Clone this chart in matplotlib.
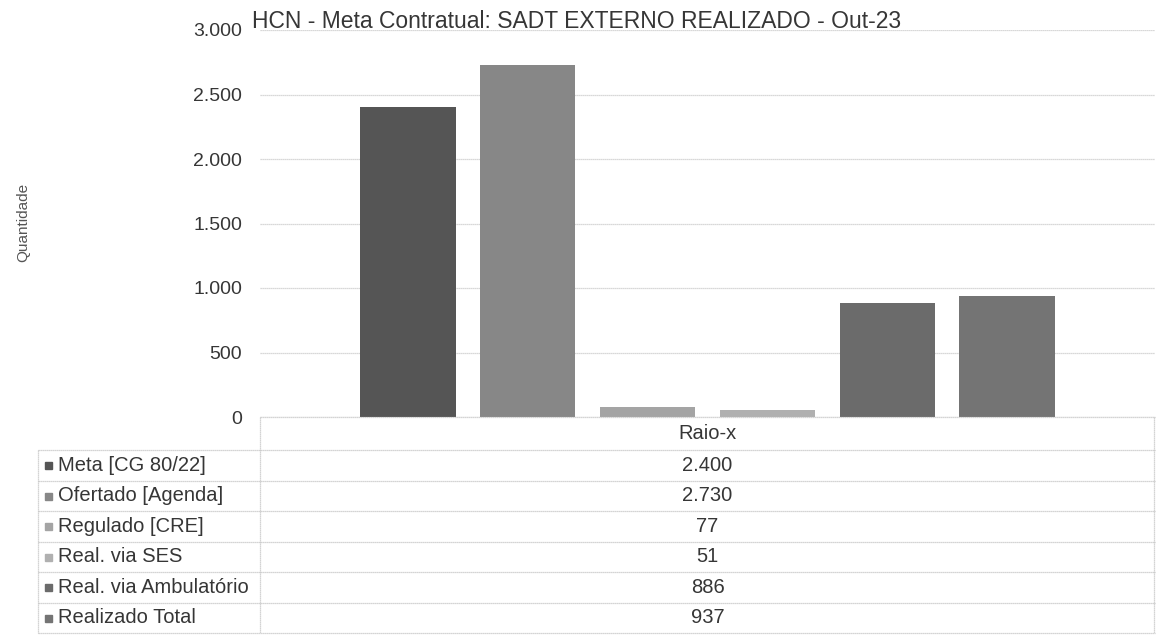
import matplotlib
matplotlib.use("Agg")
import matplotlib.pyplot as plt
from matplotlib.lines import Line2D
from matplotlib.patches import Rectangle

plt.rcParams['font.family'] = ['Liberation Sans', 'DejaVu Sans']

# ---- data ----
category = "Raio-x"
series = ["Meta [CG 80/22]", "Ofertado [Agenda]", "Regulado [CRE]",
          "Real. via SES", "Real. via Ambulatório", "Realizado Total"]
values = [2400, 2730, 77, 51, 886, 937]
value_labels = ["2.400", "2.730", "77", "51", "886", "937"]
colors = ["#555555", "#878787", "#a4a4a4", "#b0b0b0", "#6b6b6b", "#747474"]
yticks = [0, 500, 1000, 1500, 2000, 2500, 3000]
ytick_labels = ["0", "500", "1.000", "1.500", "2.000", "2.500", "3.000"]
title = "HCN - Meta Contratual: SADT EXTERNO REALIZADO - Out-23"
ylabel = "Quantidade"

W, H = 1157, 635
fig = plt.figure(figsize=(W / 100, H / 100), dpi=100)

def fx(px):
    return px / W

def fy(py):
    return 1 - py / H

txt = "#363636"
left, right, top, bottom = 260, 1155, 30, 417
ax = fig.add_axes([fx(left), fy(bottom), fx(right) - fx(left), fy(top) - fy(bottom)])
ax.set_xlim(-0.5, 0.5)
ax.set_ylim(0, 3000)

step = 0.134
width = 0.107
n = len(series)
for i, (v, c) in enumerate(zip(values, colors)):
    ax.bar((i - (n - 1) / 2) * step, v, width=width, color=c, zorder=3)

ax.set_yticks(yticks)
ax.set_yticklabels(ytick_labels, fontsize=14, color=txt)
ax.tick_params(axis='y', length=0, pad=13)
ax.set_xticks([])
for s in ax.spines.values():
    s.set_visible(False)
ax.grid(axis='y', color="#cccccc", linewidth=0.9, linestyle=(0, (1, 0.6)), zorder=0)

fig.text(fx(577), fy(22), title, fontsize=16.5, color=txt, ha='center', va='center')
fig.text(fx(23), fy(222), ylabel, fontsize=11, color="#555555", rotation=90,
         ha='center', va='center')

# ---- data table ----
lc = "#c6c6c6"
lw = 0.9
ls = (0, (1, 0.6))
x0, x1, x2 = 38, left, right
row_h = 30.5
hdr_top = bottom
rows_top = 450
table_bottom = rows_top + row_h * n

def hline(y, xa, xb):
    fig.add_artist(Line2D([fx(xa), fx(xb)], [fy(y), fy(y)], transform=fig.transFigure,
                          color=lc, lw=lw, linestyle=ls))

def vline(x, ya, yb):
    fig.add_artist(Line2D([fx(x), fx(x)], [fy(ya), fy(yb)], transform=fig.transFigure,
                          color=lc, lw=lw, linestyle=ls))

hline(hdr_top, x1, x2)
for k in range(n + 1):
    hline(rows_top + k * row_h, x0, x2)
vline(x0, rows_top, table_bottom)
vline(x1, hdr_top, table_bottom)
vline(x2 - 1, hdr_top, table_bottom)

xc = (x1 + x2) / 2
fig.text(fx(xc), fy((hdr_top + rows_top) / 2), category, fontsize=14.5,
         color=txt, ha='center', va='center')
for k, (lab, vl, c) in enumerate(zip(series, value_labels, colors)):
    yc = rows_top + k * row_h + row_h / 2
    fig.add_artist(Rectangle((fx(x0 + 7), fy(yc + 4)), fx(7), 7 / H,
                             transform=fig.transFigure, color=c))
    fig.text(fx(x0 + 20), fy(yc), lab, fontsize=14.5, color=txt,
             ha='left', va='center')
    fig.text(fx(xc), fy(yc), vl, fontsize=14.5, color=txt,
             ha='center', va='center')

fig.savefig("out.png", dpi=100)
